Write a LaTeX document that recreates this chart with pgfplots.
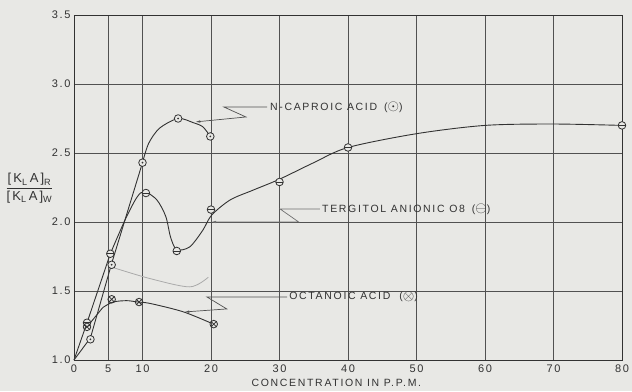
\documentclass[border=0pt]{standalone}
\usepackage{pgfplots}
\pgfplotsset{compat=1.18}
\usepackage{fontspec}
\setmainfont{Liberation Sans}
\newfontfamily\lbl[LetterSpace=16]{Liberation Sans}
\newfontfamily\tck[LetterSpace=15]{Liberation Sans}
\usetikzlibrary{arrows.meta}
\definecolor{bg}{RGB}{232,232,229}
\definecolor{ink}{RGB}{50,50,50}
\definecolor{ghost}{RGB}{170,170,170}

\pgfdeclareplotmark{odot}{%
 \pgfpathcircle{\pgfpointorigin}{\pgfplotmarksize}\pgfusepathqfillstroke
 \pgfpathcircle{\pgfpointorigin}{0.4pt}\pgfusepathqstroke}
\pgfdeclareplotmark{ominus}{%
 \pgfpathcircle{\pgfpointorigin}{\pgfplotmarksize}\pgfusepathqfillstroke
 \pgfpathmoveto{\pgfqpoint{-\pgfplotmarksize}{0pt}}%
 \pgfpathlineto{\pgfqpoint{\pgfplotmarksize}{0pt}}\pgfusepathqstroke}
\newcommand{\sym}[1]{\raisebox{-0.5pt}{\scalebox{1.35}{$#1$}}}
\newcommand{\lblfont}{\lbl\fontsize{10.5}{12}\selectfont}

\begin{document}
\begin{tikzpicture}
\fill[bg] (-74pt,-31pt) rectangle (558pt,360pt);
\begin{axis}[
 at={(0,0)}, anchor=south west,
 scale only axis, width=548pt, height=345pt,
 xmin=0, xmax=80, ymin=1, ymax=3.5,
 xtick={0,5,10,20,30,40,50,60,70,80},
 ytick={1,1.5,2,2.5,3,3.5},
 yticklabel style={/pgf/number format/fixed,/pgf/number format/fixed zerofill,/pgf/number format/precision=1},
 grid=major, major grid style={ink!85, line width=0.6pt},
 axis line style={ink, line width=0.8pt},
 major tick length=0pt,
 tick label style={font=\tck\fontsize{11}{12}\selectfont, text=ink},
 xticklabel style={yshift=-1pt},
 /pgf/number format/assume math mode=true,
 clip=false,
]
% ghost line
\addplot[ghost, line width=0.8pt, smooth, no marks] coordinates {(5.7,1.67)(11.1,1.59)(16.9,1.53)(19.6,1.60)};
% N-caproic acid
\addplot[ink, line width=0.9pt, sharp plot, no marks] coordinates {(0,1)(2.4,1.16)(5.5,1.70)(10,2.43)};
\addplot[ink, line width=0.9pt, smooth, no marks] coordinates {(10,2.43)(10.9,2.57)(12.5,2.68)(15.2,2.75)(17.4,2.72)(18.8,2.69)(19.9,2.62)};
% Tergitol anionic 08
\addplot[ink, line width=0.9pt, sharp plot, no marks] coordinates {(0,1)(1.9,1.27)(5.3,1.77)};
\addplot[ink, line width=0.9pt, smooth, no marks] coordinates {(5.3,1.77)(7.5,2.02)(9.2,2.18)(10.3,2.22)(12.1,2.16)(13.4,2.04)(14.1,1.89)(15,1.80)(16.9,1.82)(18.8,1.94)(20.1,2.05)(22.8,2.16)(26.1,2.23)(30,2.31)(35,2.43)(40,2.54)(50,2.64)(60,2.70)(70,2.71)(80,2.70)};
% Octanoic acid
\addplot[ink, line width=0.9pt, sharp plot, no marks] coordinates {(1.9,1.24)(4.2,1.38)};
\addplot[ink, line width=0.9pt, smooth, no marks] coordinates {(4.2,1.38)(5.7,1.42)(7.7,1.43)(9.3,1.42)(11.1,1.41)(15.9,1.35)(19.9,1.27)};
% markers
\addplot[only marks, mark=odot, mark size=3.8pt, mark options={draw=ink, fill=bg, line width=0.8pt}] coordinates {(2.4,1.15)(5.5,1.69)(10,2.43)(15.2,2.75)(19.9,2.62)};
\addplot[only marks, mark=ominus, mark size=3.8pt, mark options={draw=ink, fill=bg, line width=0.8pt}] coordinates {(1.9,1.27)(5.3,1.77)(10.5,2.21)(15,1.79)(20,2.09)(30,2.29)(40,2.54)(80,2.70)};
\addplot[only marks, mark=otimes, mark size=3.8pt, mark options={draw=ink, fill=bg, line width=0.8pt}] coordinates {(1.9,1.24)(5.5,1.44)(9.5,1.42)(20.4,1.26)};
% labels and leaders
\node[anchor=west, font=\lblfont, text=ink, inner sep=0pt] at (axis cs:28.6,2.833) {N-CAPROIC ACID\hspace{7pt}(\sym{\odot})};
\draw[ink!85, line width=0.7pt, -{Latex[length=5pt,width=2.5pt]}] (axis cs:28.2,2.833) -- (axis cs:21.9,2.833) -- (axis cs:25.1,2.761) -- (axis cs:17.7,2.725);
\node[anchor=west, font=\lblfont, text=ink, inner sep=0pt] at (axis cs:36.2,2.094) {TERGITOL ANIONIC O8\hspace{7pt}(\sym{\ominus})};
\draw[ink!70, line width=0.7pt, -{Latex[length=5pt,width=2.5pt]}] (axis cs:35.9,2.094) -- (axis cs:30.1,2.094) -- (axis cs:32.8,2.0) -- (axis cs:20,2.0);
\node[anchor=west, font=\lblfont, text=ink, inner sep=0pt] at (axis cs:31.4,1.457) {OCTANOIC ACID\hspace{9pt}(\sym{\otimes})};
\draw[ink!85, line width=0.7pt, -{Latex[length=5pt,width=2.5pt]}] (axis cs:31.1,1.457) -- (axis cs:19.4,1.457) -- (axis cs:22.3,1.37) -- (axis cs:16.1,1.348);
% axis labels
\node[font=\lblfont, text=ink] at (axis cs:38.3,0.835) {CONCENTRATION IN P.P.M.};
\node[font=\lbl\fontsize{13}{14}\selectfont, text=ink, inner sep=0pt] at (axis cs:-6.5,2.24) {\renewcommand{\arraystretch}{1.0}\setlength{\tabcolsep}{0pt}\begin{tabular}{c}[K\textsubscript{L}\,A]\textsubscript{R}\\[1pt]\hline\rule{0pt}{12pt}[K\textsubscript{L}\,A]\textsubscript{W}\end{tabular}};
\end{axis}
\pgfresetboundingbox
\useasboundingbox (-74pt,-31pt) rectangle (558pt,360pt);
\end{tikzpicture}
\end{document}
